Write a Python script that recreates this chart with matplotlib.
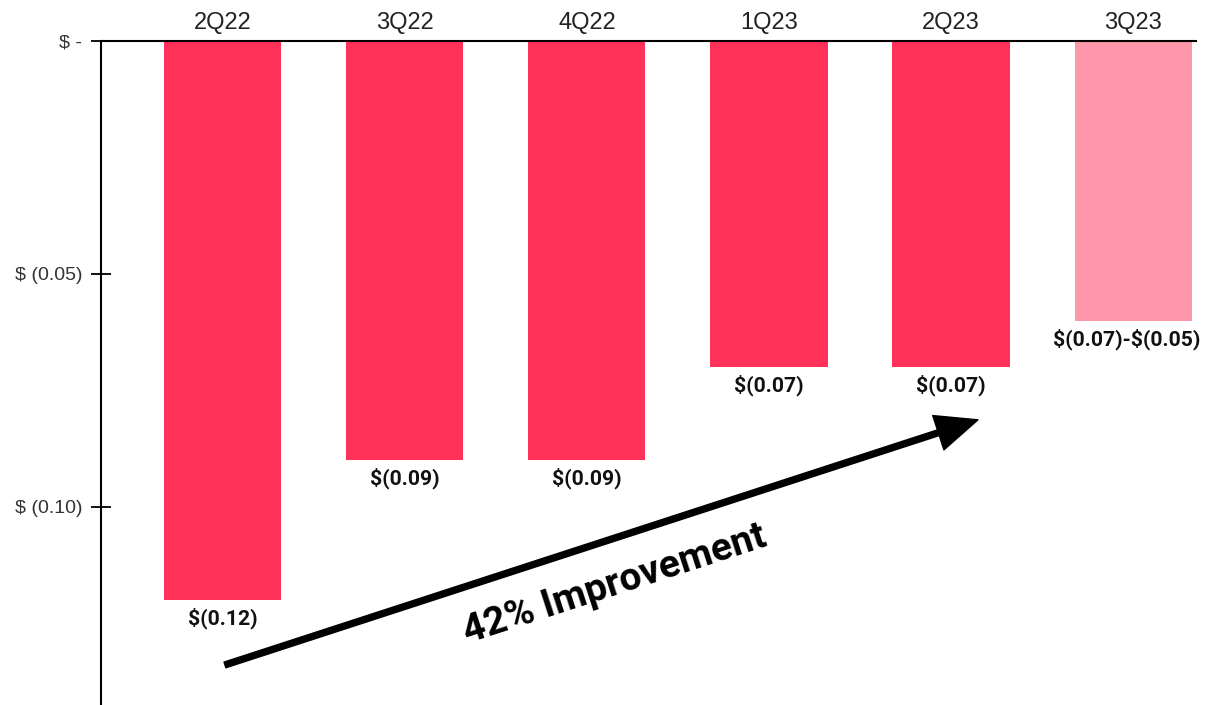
import matplotlib.pyplot as plt

quarters = ["2Q22", "3Q22", "4Q22", "1Q23", "2Q23", "3Q23"]
eps = [-0.12, -0.09, -0.09, -0.07, -0.07, -0.06]
eps_labels = [r"\$(0.12)", r"\$(0.09)", r"\$(0.09)", r"\$(0.07)", r"\$(0.07)", r"\$(0.07)-\$(0.05)"]
colors = ["#FF3158"] * 5 + ["#FF97AA"]
yticks = [0, -0.05, -0.10]
ytick_labels = [r"\$ -", r"\$ (0.05)", r"\$ (0.10)"]

fig = plt.figure(figsize=(12.06, 7.05), dpi=100)
ax = fig.add_axes([101 / 1206, 0, 1095 / 1206, 1 - 41 / 705])

x = range(len(quarters))
ax.bar(x, eps, width=0.643, color=colors)

for i, (v, lab) in enumerate(zip(eps, eps_labels)):
    # last label is wide, nudge it so it stays inside the figure
    xpos = i - 0.035 if i == len(eps) - 1 else i
    ax.text(xpos, v - 0.0016, lab, ha="center", va="top", fontsize=15.2,
            fontweight="bold", family="Roboto", color="#111111")

ax.set_xlim(-0.67, 5.346)
ax.set_ylim(-0.1425, 0)

ax.xaxis.tick_top()
ax.set_xticks(list(x))
ax.set_xticklabels(quarters, fontsize=17, family="Liberation Sans", color="#222222")
ax.tick_params(axis="x", length=0, pad=5)

ax.set_yticks(yticks)
ax.set_yticklabels(ytick_labels, fontsize=14, family="Liberation Sans", color="#333333")
ax.tick_params(axis="y", direction="inout", length=15, width=1.3, pad=6)

for s in ["right", "bottom"]:
    ax.spines[s].set_visible(False)
for s in ["top", "left"]:
    ax.spines[s].set_linewidth(1.5)

# improvement arrow
ax.annotate("", xy=(4.148, -0.0813), xytext=(0.011, -0.1339),
            arrowprops=dict(facecolor="black", edgecolor="black", width=4.3,
                            headwidth=26, headlength=30, shrink=0))
ax.text(2.154, -0.1167, "42% Improvement", rotation=18, rotation_mode="anchor",
        ha="center", va="center", fontsize=28, fontweight="bold", family="Roboto")

fig.savefig("out.png", dpi=100)
